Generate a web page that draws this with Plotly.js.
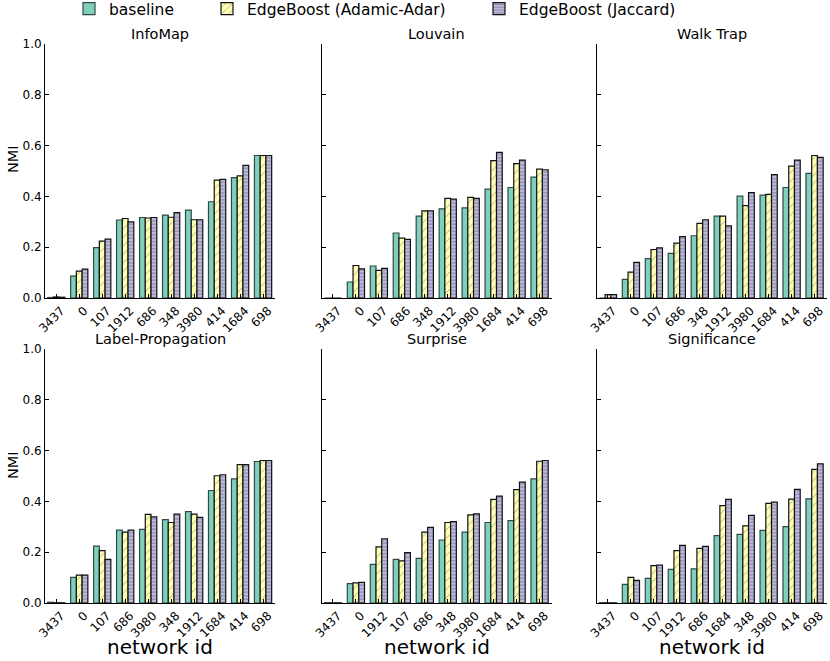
<!DOCTYPE html>
<html>
<head>
<meta charset="utf-8">
<script src="https://cdn.plot.ly/plotly-3.0.1.min.js"></script>
<style>
  body { margin: 0; background: white; }
  #chart { width: 830px; height: 661px; }
</style>
</head>
<body>
<div id="chart"></div>
<script>
// NMI values per method
var infomapIds  = ['3437', '0', '107', '1912', '686', '348', '3980', '414', '1684', '698'];
var infomapBase = [0.002, 0.086, 0.198, 0.307, 0.317, 0.326, 0.346, 0.379, 0.474, 0.561];
var infomapAA   = [0.004, 0.106, 0.224, 0.313, 0.315, 0.318, 0.308, 0.464, 0.481, 0.561];
var infomapJac  = [0.003, 0.114, 0.232, 0.300, 0.317, 0.336, 0.308, 0.467, 0.522, 0.561];

var louvainIds  = ['3437', '0', '107', '686', '348', '1912', '3980', '1684', '414', '698'];
var louvainBase = [0, 0.063, 0.126, 0.256, 0.322, 0.351, 0.355, 0.429, 0.435, 0.476];
var louvainAA   = [0, 0.128, 0.109, 0.236, 0.343, 0.392, 0.396, 0.541, 0.529, 0.507];
var louvainJac  = [0, 0.115, 0.117, 0.231, 0.343, 0.389, 0.392, 0.573, 0.543, 0.505];

var walkIds  = ['3437', '0', '107', '686', '348', '1912', '3980', '1684', '414', '698'];
var walkBase = [0, 0.073, 0.155, 0.176, 0.245, 0.322, 0.401, 0.405, 0.435, 0.491];
var walkAA   = [0.013, 0.102, 0.191, 0.216, 0.294, 0.322, 0.364, 0.408, 0.519, 0.561];
var walkJac  = [0.013, 0.140, 0.197, 0.242, 0.308, 0.284, 0.415, 0.486, 0.543, 0.554];

var labelIds  = ['3437', '0', '107', '686', '3980', '348', '1912', '1684', '414', '698'];
var labelBase = [0.003, 0.101, 0.224, 0.287, 0.290, 0.328, 0.360, 0.443, 0.489, 0.557];
var labelAA   = [0.001, 0.110, 0.206, 0.279, 0.349, 0.317, 0.350, 0.501, 0.545, 0.561];
var labelJac  = [0.001, 0.110, 0.172, 0.287, 0.339, 0.350, 0.337, 0.505, 0.545, 0.561];

var surpriseIds  = ['3437', '0', '1912', '107', '686', '348', '3980', '1684', '414', '698'];
var surpriseBase = [0.002, 0.076, 0.152, 0.172, 0.176, 0.248, 0.279, 0.317, 0.324, 0.489];
var surpriseAA   = [0.001, 0.079, 0.221, 0.166, 0.279, 0.317, 0.347, 0.408, 0.446, 0.558];
var surpriseJac  = [0.001, 0.081, 0.253, 0.198, 0.298, 0.320, 0.351, 0.421, 0.476, 0.561];

var signifIds  = ['3437', '0', '107', '1912', '686', '1684', '348', '3980', '414', '698'];
var signifBase = [0.002, 0.073, 0.097, 0.132, 0.134, 0.265, 0.270, 0.286, 0.301, 0.410];
var signifAA   = [0.001, 0.101, 0.147, 0.206, 0.215, 0.383, 0.304, 0.392, 0.409, 0.526];
var signifJac  = [0.001, 0.089, 0.149, 0.227, 0.223, 0.408, 0.345, 0.397, 0.447, 0.548];

var panelTitles = ['InfoMap', 'Louvain', 'Walk Trap', 'Label-Propagation', 'Surprise', 'Significance'];
var seriesNames = ['baseline', 'EdgeBoost (Adamic-Adar)', 'EdgeBoost (Jaccard)'];

var panels = [
    [infomapIds, infomapBase, infomapAA, infomapJac],
    [louvainIds, louvainBase, louvainAA, louvainJac],
    [walkIds, walkBase, walkAA, walkJac],
    [labelIds, labelBase, labelAA, labelJac],
    [surpriseIds, surpriseBase, surpriseAA, surpriseJac],
    [signifIds, signifBase, signifAA, signifJac]
];

var W = 830, H = 661;
// pixel boxes of the plot areas
var colPx = [[45, 275], [321.7, 551.5], [596.7, 826.5]];
var rowPx = [[44, 298], [349, 603]];
// left edge (px) of each legend entry, one legend per series
var legendLeft = [69, 207, 479];

var styles = [
    { color: '#80cfbc', line: '#2f4a45', pattern: { shape: '' } },
    { color: '#ffffb3', line: '#111111', pattern: { shape: '/', fgcolor: '#a9a98c', bgcolor: '#ffffb3', size: 6, solidity: 0.15 } },
    { color: '#bebada', line: '#111111', pattern: { shape: '-', fgcolor: '#8884a6', bgcolor: '#bebada', size: 3.5, solidity: 0.3 } }
];

var data = [];
var layout = {
    width: W,
    height: H,
    margin: { l: 0, r: 0, t: 0, b: 0, autoexpand: false },
    paper_bgcolor: 'white',
    plot_bgcolor: 'white',
    font: { family: 'DejaVu Sans, sans-serif', color: 'black', size: 12 },
    barmode: 'group',
    bargap: 0.25,
    bargroupgap: 0,
    showlegend: true,
    annotations: []
};

seriesNames.forEach(function (name, s) {
    var key = 'legend' + (s === 0 ? '' : s + 1);
    layout[key] = {
        orientation: 'h',
        x: legendLeft[s] / W,
        xanchor: 'left',
        y: 1.012,
        yanchor: 'top',
        font: { size: 15.5 },
        itemwidth: 30,
        bgcolor: 'rgba(0,0,0,0)'
    };
});

panels.forEach(function (p, k) {
    var col = k % 3, row = Math.floor(k / 3);
    var n = k + 1;
    var xName = 'x' + (n === 1 ? '' : n), yName = 'y' + (n === 1 ? '' : n);
    var xKey = 'xaxis' + (n === 1 ? '' : n), yKey = 'yaxis' + (n === 1 ? '' : n);

    for (var s = 0; s < 3; s++) {
        data.push({
            type: 'bar',
            x: p[0],
            y: p[s + 1],
            name: seriesNames[s],
            legend: 'legend' + (s === 0 ? '' : s + 1),
            legendgroup: seriesNames[s],
            showlegend: k === 0,
            xaxis: xName,
            yaxis: yName,
            marker: {
                color: styles[s].color,
                line: { color: styles[s].line, width: 1.2 },
                pattern: styles[s].pattern
            },
            hoverinfo: 'x+y+name'
        });
    }

    var xd = [colPx[col][0] / W, colPx[col][1] / W];
    var yd = [1 - rowPx[row][1] / H, 1 - rowPx[row][0] / H];

    layout[xKey] = {
        domain: xd,
        anchor: yName,
        type: 'category',
        range: [-0.49, 9.52],
        showline: true,
        linecolor: 'black',
        linewidth: 1,
        mirror: false,
        ticks: 'inside',
        ticklen: 4,
        tickcolor: 'black',
        tickangle: -45,
        tickfont: { size: 12 },
        ticklabelshift: 5,
        showgrid: false,
        zeroline: false
    };
    layout[yKey] = {
        domain: yd,
        anchor: xName,
        range: [0, 1],
        dtick: 0.2,
        tickformat: '.1f',
        showline: true,
        linecolor: 'black',
        linewidth: 1,
        ticks: 'inside',
        ticklen: 4,
        tickcolor: 'black',
        showticklabels: col === 0,
        tickfont: { size: 12 },
        showgrid: false,
        zeroline: false
    };

    // panel title
    layout.annotations.push({
        text: panelTitles[k],
        xref: 'paper', yref: 'paper',
        x: (xd[0] + xd[1]) / 2,
        y: 1 - (row === 0 ? 34 : 339) / H,
        xanchor: 'center', yanchor: 'middle',
        showarrow: false,
        font: { size: 14.5 }
    });

    if (col === 0) {
        layout.annotations.push({
            text: 'NMI',
            xref: 'paper', yref: 'paper',
            x: 13 / W,
            y: 1 - (row === 0 ? 159 : 465) / H,
            xanchor: 'center', yanchor: 'middle',
            textangle: -90,
            showarrow: false,
            font: { size: 14.5 }
        });
    }
    if (row === 1) {
        layout.annotations.push({
            text: 'network id',
            xref: 'paper', yref: 'paper',
            x: (xd[0] + xd[1]) / 2,
            y: 1 - 647 / H,
            xanchor: 'center', yanchor: 'middle',
            showarrow: false,
            font: { size: 20 }
        });
    }
});

Plotly.newPlot('chart', data, layout, { displayModeBar: false, staticPlot: true });
</script>
</body>
</html>
